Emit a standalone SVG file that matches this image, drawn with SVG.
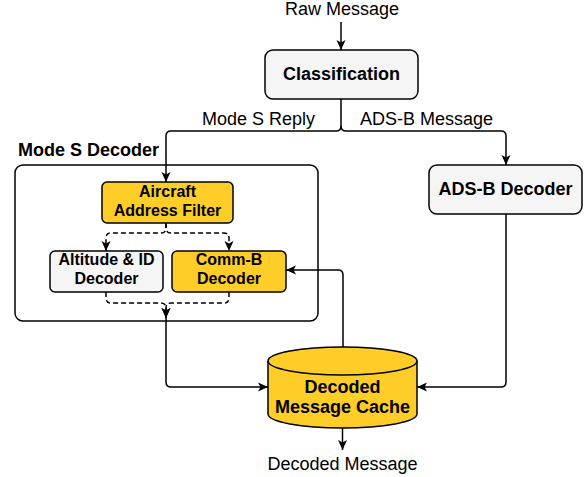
<svg xmlns="http://www.w3.org/2000/svg" width="584" height="477" viewBox="0 0 584 477">
<defs>
<marker id="arr" markerUnits="userSpaceOnUse" markerWidth="14" markerHeight="14" viewBox="0 0 14 14" refX="12" refY="7" orient="auto">
<path d="M2,2.5 L12,7 L2,11.5 L4.5,7 Z" fill="#000"/>
</marker>
</defs>
<style>
.box{stroke:#000;stroke-width:1.5}
.gray{fill:#f5f5f5}
.yel{fill:#ffcd28}
.t{font-family:"Liberation Sans",Arial,sans-serif;fill:#000}
.b{font-weight:bold;text-anchor:middle}
.c{stroke:#000;stroke-width:1.5;fill:none}
.d{stroke-dasharray:5 3}
</style>
<rect width="584" height="477" fill="#fff"/>
<text class="t" x="342" y="15" font-size="18" text-anchor="middle">Raw Message</text>
<g id="classification">
<rect class="box gray" x="265" y="50" width="153" height="49" rx="8"/>
<text class="t b" x="341.5" y="80" font-size="18">Classification</text>
</g>
<g id="modes-decoder">
<rect class="box" x="15" y="165" width="303" height="156" rx="8" fill="none"/>
<text class="t" x="18" y="156" font-size="18" font-weight="bold">Mode S Decoder</text>
</g>
<g id="aircraft-filter">
<rect class="box yel" x="102" y="182" width="131" height="41" rx="5"/>
<text class="t b" font-size="16"><tspan x="167.5" y="197">Aircraft</tspan><tspan x="167.5" y="216">Address Filter</tspan></text>
</g>
<g id="altitude-decoder">
<rect class="box gray" x="50" y="251" width="113" height="41" rx="5"/>
<text class="t b" font-size="16"><tspan x="106.5" y="265">Altitude &amp; ID</tspan><tspan x="106.5" y="284">Decoder</tspan></text>
</g>
<g id="commb-decoder">
<rect class="box yel" x="172" y="251" width="114" height="41" rx="5"/>
<text class="t b" font-size="16"><tspan x="229" y="265">Comm-B</tspan><tspan x="229" y="284">Decoder</tspan></text>
</g>
<g id="adsb-decoder">
<rect class="box gray" x="429" y="165" width="153" height="49" rx="8"/>
<text class="t b" x="505.5" y="195" font-size="18">ADS-B Decoder</text>
</g>
<g id="cache">
<path class="box yel" d="M268,361 A74.5,14 0 0 1 417,361 L417,414 A74.5,14 0 0 1 268,414 Z"/>
<path class="c" d="M268,361 A74.5,14 0 0 0 417,361"/>
<text class="t b" font-size="18"><tspan x="342.5" y="393">Decoded</tspan><tspan x="342.5" y="413">Message Cache</tspan></text>
</g>
<text class="t" x="342.5" y="470" font-size="18" text-anchor="middle">Decoded Message</text>
<g id="connectors">
<path class="c" d="M341,22 L341,50" marker-end="url(#arr)"/>
<path class="c" d="M341,99 L341,126 Q341,131 336,131 L171,131 Q166,131 166,136 L166,182" marker-end="url(#arr)"/>
<path class="c" d="M341,126 Q341,131 346,131 L501,131 Q506,131 506,136 L506,165" marker-end="url(#arr)"/>
<text class="t" x="315" y="125" font-size="18" text-anchor="end">Mode S Reply</text>
<text class="t" x="360" y="125" font-size="18">ADS-B Message</text>
<path class="c d" d="M166,223 L166,228 Q166,233 161,233 L111,233 Q106,233 106,238 L106,251" marker-end="url(#arr)"/>
<path class="c d" d="M166,223 L166,228 Q166,233 171,233 L224,233 Q229,233 229,238 L229,251" marker-end="url(#arr)"/>
<path class="c d" d="M106,292 L106,298 Q106,303 111,303 L161,303 Q166,303 166,308 L166,318" marker-end="url(#arr)"/>
<path class="c d" d="M229,292 L229,298 Q229,303 224,303 L171,303 Q166,303 166,308 L166,318" marker-end="url(#arr)"/>
<path class="c" d="M166,318 L166,382 Q166,387 171,387 L268,387" marker-end="url(#arr)"/>
<path class="c" d="M506,214 L506,382 Q506,387 501,387 L417,387" marker-end="url(#arr)"/>
<path class="c" d="M343,347 L343,275 Q343,270 338,270 L286,270" marker-end="url(#arr)"/>
<path class="c" d="M342.5,428 L342.5,450" marker-end="url(#arr)"/>
</g>
</svg>
